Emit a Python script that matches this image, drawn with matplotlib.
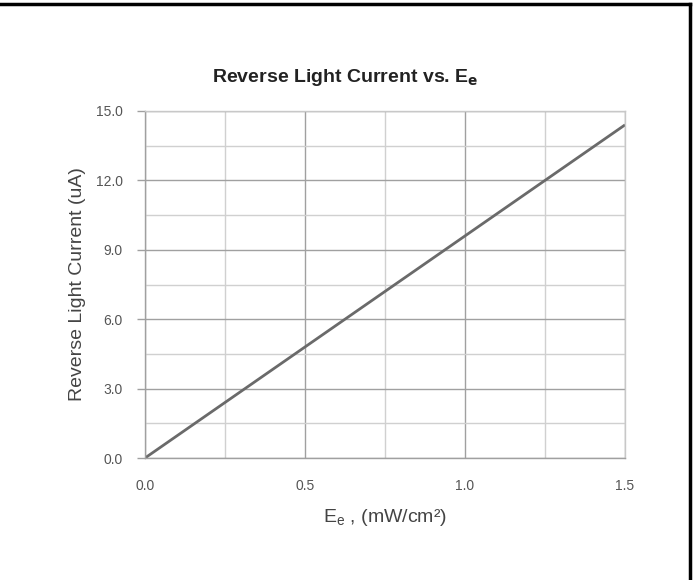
import numpy as np
import matplotlib as mpl
import matplotlib.pyplot as plt
from matplotlib.lines import Line2D
from matplotlib.ticker import MultipleLocator

mpl.rcParams["font.family"] = ["Liberation Sans", "DejaVu Sans"]

# data
ee_mw = [0.0, 0.5, 1.0, 1.5]
current_ua = [0.0, 4.8, 9.6, 14.4]
x_ticks = [0.0, 0.5, 1.0, 1.5]
y_ticks = [0.0, 3.0, 6.0, 9.0, 12.0, 15.0]

W, H = 694, 580
fig = plt.figure(figsize=(W / 100, H / 100), dpi=100)
ax = fig.add_axes([145 / W, 1 - 458 / H, 480 / W, 347 / H])

ax.plot(ee_mw, current_ua, color="#6a6a6a", linewidth=2.0, solid_capstyle="butt")

ax.set_xlim(0, 1.5)
ax.set_ylim(0, 15)
ax.set_xticks(x_ticks)
ax.set_yticks(y_ticks)
ax.set_xticklabels([f"{v:.1f}" for v in x_ticks])
ax.set_yticklabels([f"{v:.1f}" for v in y_ticks])
ax.xaxis.set_minor_locator(MultipleLocator(0.25))
ax.yaxis.set_minor_locator(MultipleLocator(1.5))

ax.grid(which="major", color="#a0a0a0", linewidth=1.0)
ax.grid(which="minor", color="#d0d0d0", linewidth=1.0)
ax.set_axisbelow(True)

ax.tick_params(axis="x", which="both", length=0, pad=15,
               labelsize=10, labelcolor="#555555")
ax.tick_params(axis="y", which="major", length=6, width=1.0, color="#a0a0a0",
               pad=10, labelsize=10, labelcolor="#555555")
ax.tick_params(axis="y", which="minor", length=0)

for s in ("left", "bottom"):
    ax.spines[s].set_color("#a0a0a0")
    ax.spines[s].set_linewidth(1.0)
for s in ("top", "right"):
    ax.spines[s].set_color("#c8c8c8")
    ax.spines[s].set_linewidth(1.0)

ax.set_xlabel("E$_\\mathregular{e}$ , (mW/cm²)", fontsize=14, color="#444444")
ax.xaxis.label.set_va("center")
ax.xaxis.set_label_coords(0.5, (458 - 518) / 347)
ax.set_ylabel("Reverse Light Current (uA)", fontsize=14, color="#444444")
ax.yaxis.label.set_va("center")
ax.yaxis.set_label_coords((77 - 145) / 480, 0.5)

fig.text(345 / W, 1 - 77 / H, "Reverse Light Current vs. E$_\\mathbf{e}$",
         ha="center", va="center", fontsize=14, fontweight="bold",
         color="#222222")

# frame lines of the screenshot (top and right edges)
fig.add_artist(Line2D([0, 690 / W], [1 - 4 / H, 1 - 4 / H],
                      transform=fig.transFigure, color="black", linewidth=2.5))
fig.add_artist(Line2D([690 / W, 690 / W], [0, 1 - 4 / H],
                      transform=fig.transFigure, color="black", linewidth=2.5))

fig.savefig("out.png", dpi=100)
